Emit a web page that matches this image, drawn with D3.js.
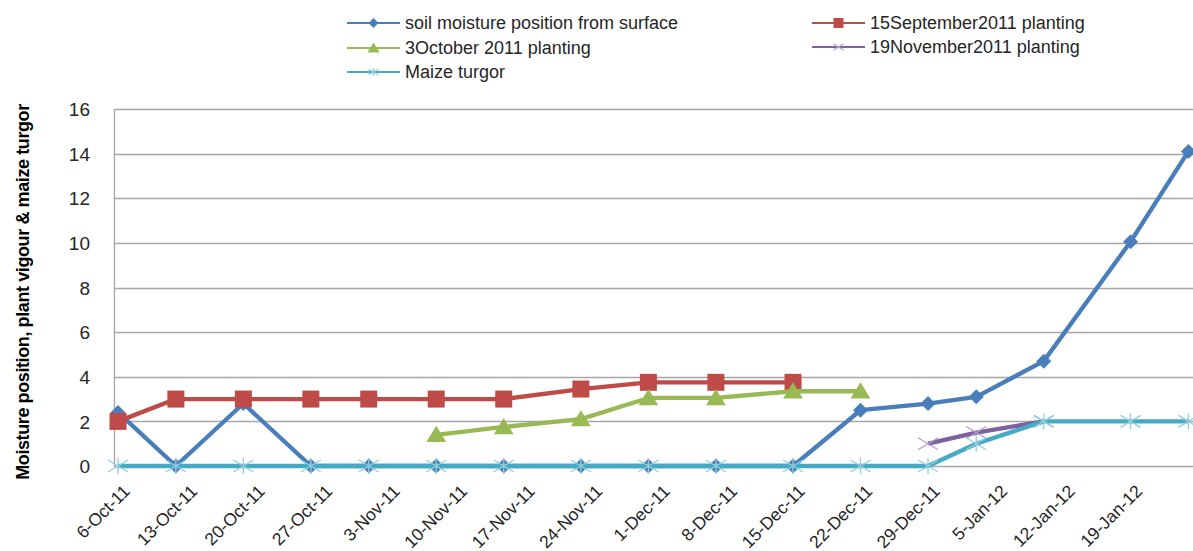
<!DOCTYPE html>
<html>
<head>
<meta charset="utf-8">
<script src="https://cdn.jsdelivr.net/npm/d3@7"></script>
<style>
  body { margin: 0; background: #fff; }
  svg { display: block; font-family: "Liberation Sans", Arial, sans-serif; }
</style>
</head>
<body>
<svg id="chart" width="1193" height="551"></svg>
<script>
// Observation dates (x positions follow the real dates on a date axis)
const obsDates = [
  "2011-10-06", "2011-10-12", "2011-10-19", "2011-10-26", "2011-11-01",
  "2011-11-08", "2011-11-15", "2011-11-23", "2011-11-30", "2011-12-07",
  "2011-12-15", "2011-12-22", "2011-12-29", "2012-01-03", "2012-01-10",
  "2012-01-19", "2012-01-25"
];

// Weekly tick labels on the x axis
const tickDates = [
  "2011-10-06", "2011-10-13", "2011-10-20", "2011-10-27", "2011-11-03",
  "2011-11-10", "2011-11-17", "2011-11-24", "2011-12-01", "2011-12-08",
  "2011-12-15", "2011-12-22", "2011-12-29", "2012-01-05", "2012-01-12",
  "2012-01-19"
];

const yTicks = [0, 2, 4, 6, 8, 10, 12, 14, 16];

// Series values (null = no observation)
const soilMoisture = [2.4, 0, 2.8, 0, 0, 0, 0, 0, 0, 0, 0, 2.5, 2.8, 3.1, 4.7, 10.05, 14.1];
const sep15Planting = [2, 3, 3, 3, 3, 3, 3, 3.45, 3.75, 3.75, 3.75, null, null, null, null, null, null];
const oct3Planting = [null, null, null, null, null, 1.4, 1.75, 2.1, 3.05, 3.05, 3.35, 3.35, null, null, null, null, null];
const nov19Planting = [null, null, null, null, null, null, null, null, null, null, null, null, 1.0, 1.5, 2.0, null, null];
const maizeTurgor = [0, 0, 0, 0, 0, 0, 0, 0, 0, 0, 0, 0, 0, 1.0, 2, 2, 2];

const seriesNames = [
  "soil moisture position from surface",
  "15September2011 planting",
  "3October 2011 planting",
  "19November2011 planting",
  "Maize turgor"
];

const series = [
  { name: seriesNames[0], values: soilMoisture, color: "#4a7ebb", marker: "diamond" },
  { name: seriesNames[1], values: sep15Planting, color: "#be4b48", marker: "square" },
  { name: seriesNames[2], values: oct3Planting, color: "#98b954", marker: "triangle" },
  { name: seriesNames[3], values: nov19Planting, color: "#7d60a0", marker: "x", markColor: "#b3a2c7" },
  { name: seriesNames[4], values: maizeTurgor, color: "#46aac5", marker: "star", markColor: "#93cddd" }
];

const parse = d3.utcParse("%Y-%m-%d");
const fmt = d3.utcFormat("%-d-%b-%y");

const svg = d3.select("#chart");

const plot = { left: 114, top: 109, bottom: 466, right: 1193 };

const x = d3.scaleUtc()
  .domain([new Date(Date.UTC(2011, 9, 5, 14)), new Date(Date.UTC(2012, 0, 26))])
  .range([plot.left, plot.left + 112.417 * 9.643]);

const y = d3.scaleLinear().domain([0, 16]).range([plot.bottom, plot.top]);

// Horizontal gridlines
svg.append("g")
  .selectAll("line")
  .data(yTicks)
  .join("line")
  .attr("x1", plot.left)
  .attr("x2", plot.right)
  .attr("y1", d => Math.round(y(d)) + 0.5)
  .attr("y2", d => Math.round(y(d)) + 0.5)
  .attr("stroke", "#a6a6a6")
  .attr("stroke-width", 1.3);

// Y axis line
svg.append("line")
  .attr("x1", plot.left + 0.5).attr("x2", plot.left + 0.5)
  .attr("y1", plot.top).attr("y2", plot.bottom)
  .attr("stroke", "#a6a6a6").attr("stroke-width", 1.3);

// Y tick labels
const yAxis = d3.axisLeft(y).tickValues(yTicks).tickSize(0).tickPadding(0);
const gy = svg.append("g")
  .attr("transform", `translate(${plot.left - 24},0)`)
  .call(yAxis);
gy.select(".domain").remove();
gy.selectAll("text")
  .attr("font-size", 19)
  .attr("font-family", "Liberation Sans, Arial, sans-serif")
  .attr("fill", "#262626")
  .attr("dy", "0.35em");

// X tick labels, rotated
const xAxis = d3.axisBottom(x).tickValues(tickDates.map(parse)).tickFormat(fmt).tickSize(0);
const gx = svg.append("g")
  .attr("transform", `translate(0,${plot.bottom})`)
  .call(xAxis);
gx.select(".domain").remove();
gx.selectAll("text")
  .attr("font-size", 17.5)
  .attr("font-family", "Liberation Sans, Arial, sans-serif")
  .attr("fill", "#262626")
  .attr("text-anchor", "end")
  .attr("transform", "translate(8,22) rotate(-45)")
  .attr("y", 0)
  .attr("dy", "0.35em");

// Y axis title
svg.append("text")
  .attr("transform", "translate(29,292) rotate(-90)")
  .attr("text-anchor", "middle")
  .attr("font-size", 18)
  .attr("font-weight", "bold")
  .attr("letter-spacing", -0.4)
  .attr("fill", "#000")
  .text("Moisture position, plant vigour & maize turgor");

// Marker drawing
function drawMarker(g, type, size, color, markColor) {
  const h = size / 2;
  if (type === "diamond") {
    g.append("path").attr("d", `M0,${-h}L${h},0L0,${h}L${-h},0Z`).attr("fill", color);
  } else if (type === "square") {
    g.append("rect").attr("x", -h).attr("y", -h).attr("width", size).attr("height", size).attr("fill", color);
  } else if (type === "triangle") {
    g.append("path").attr("d", `M0,${-h}L${h * 1.1},${h * 0.8}L${-h * 1.1},${h * 0.8}Z`).attr("fill", color);
  } else if (type === "x") {
    g.append("path").attr("d", `M${-h},${-h * 0.6}L${h},${h * 0.6}M${-h},${h * 0.6}L${h},${-h * 0.6}`)
      .attr("stroke", markColor).attr("stroke-width", 1.3).attr("fill", "none");
  } else if (type === "star") {
    g.append("path").attr("d", `M${-h},${-h * 0.6}L${h},${h * 0.6}M${-h},${h * 0.6}L${h},${-h * 0.6}M0,${-h * 0.8}L0,${h * 0.8}`)
      .attr("stroke", markColor).attr("stroke-width", 1.3).attr("fill", "none");
  }
}

const line = d3.line()
  .defined(d => d.v !== null)
  .x(d => x(d.date))
  .y(d => y(d.v));

const markerSize = { diamond: 15, square: 17, triangle: 18, x: 20, star: 20 };

series.forEach(s => {
  const pts = s.values.map((v, i) => ({ date: parse(obsDates[i]), v }));
  const g = svg.append("g");
  g.append("path")
    .datum(pts)
    .attr("d", line)
    .attr("fill", "none")
    .attr("stroke", s.color)
    .attr("stroke-width", 4.3)
    .attr("stroke-linejoin", "round");
  pts.filter(d => d.v !== null).forEach(d => {
    const mg = g.append("g").attr("transform", `translate(${x(d.date)},${y(d.v)})`);
    drawMarker(mg, s.marker, markerSize[s.marker], s.color, s.markColor);
  });
});

// Legend
const legendItems = [
  { s: series[0], lx: 347, ly: 23 },
  { s: series[1], lx: 812, ly: 23 },
  { s: series[2], lx: 347, ly: 48 },
  { s: series[3], lx: 812, ly: 47 },
  { s: series[4], lx: 347, ly: 72 }
];

const legend = svg.append("g");
legendItems.forEach(item => {
  const g = legend.append("g").attr("transform", `translate(${item.lx},${item.ly})`);
  g.append("line")
    .attr("x1", 0).attr("x2", 53)
    .attr("stroke", item.s.color).attr("stroke-width", 2);
  const mg = g.append("g").attr("transform", "translate(26.5,0)");
  drawMarker(mg, item.s.marker, item.s.marker === "triangle" ? 11 : 10, item.s.color, item.s.markColor);
  g.append("text")
    .attr("x", 58)
    .attr("dy", "0.35em")
    .attr("font-size", 18)
    .attr("fill", "#262626")
    .text(item.s.name);
});
</script>
</body>
</html>
